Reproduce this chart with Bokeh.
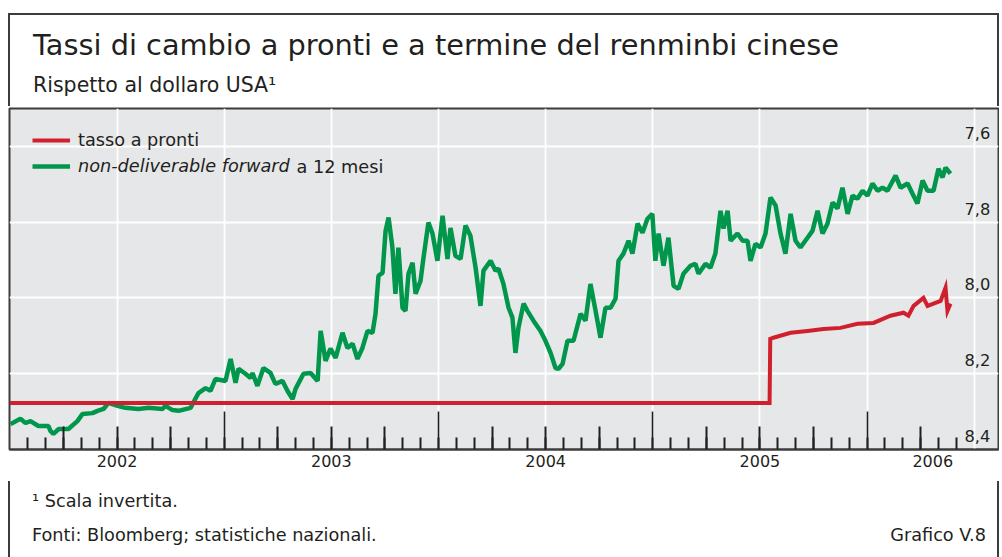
from bokeh.plotting import figure
from bokeh.layouts import column
from bokeh.models import (Range1d, LinearAxis, FixedTicker, CustomJSTickFormatter,
                          Legend, LegendItem, Label, Div)
from bokeh.embed import file_html
from bokeh.resources import INLINE

# ---------------- data (decimal years, CNY per USD) ----------------
spot_x = [2002.000, 2002.500, 2003.000, 2003.500, 2004.000, 2004.500, 2005.000, 2005.545,
          2005.548, 2005.563, 2005.643, 2005.722, 2005.796, 2005.876, 2005.955, 2006.030,
          2006.109, 2006.170, 2006.193, 2006.217, 2006.263, 2006.282, 2006.310, 2006.343,
          2006.366, 2006.375, 2006.389]
spot_y = [8.277, 8.277, 8.277, 8.277, 8.277, 8.277, 8.277, 8.277,
          8.108, 8.105, 8.092, 8.087, 8.082, 8.079, 8.068, 8.066,
          8.047, 8.039, 8.047, 8.021, 8.000, 8.021, 8.015, 8.008,
          7.973, 8.034, 8.015]

ndf_x = [2002.003, 2002.049, 2002.073, 2002.096, 2002.133, 2002.180, 2002.189, 2002.203, 2002.227, 2002.273,
         2002.315, 2002.339, 2002.385, 2002.409, 2002.437, 2002.460, 2002.502, 2002.539, 2002.600, 2002.647,
         2002.712, 2002.726, 2002.759, 2002.787, 2002.843, 2002.880, 2002.913, 2002.936, 2002.959, 2003.006,
         2003.030, 2003.053, 2003.067, 2003.099, 2003.123, 2003.132, 2003.155, 2003.183, 2003.216, 2003.239,
         2003.272, 2003.295, 2003.319, 2003.333, 2003.370, 2003.403, 2003.436, 2003.450, 2003.473, 2003.496,
         2003.520, 2003.552, 2003.575, 2003.599, 2003.622, 2003.645, 2003.669, 2003.692, 2003.706, 2003.720,
         2003.739, 2003.753, 2003.767, 2003.785, 2003.799, 2003.813, 2003.832, 2003.846, 2003.860, 2003.879,
         2003.893, 2003.916, 2003.930, 2003.953, 2003.972, 2003.995, 2004.019, 2004.042, 2004.056, 2004.079,
         2004.103, 2004.126, 2004.149, 2004.173, 2004.196, 2004.210, 2004.243, 2004.266, 2004.280, 2004.303,
         2004.327, 2004.345, 2004.359, 2004.373, 2004.397, 2004.415, 2004.443, 2004.476, 2004.499, 2004.523,
         2004.546, 2004.560, 2004.579, 2004.602, 2004.630, 2004.663, 2004.686, 2004.709, 2004.733, 2004.756,
         2004.779, 2004.803, 2004.826, 2004.840, 2004.863, 2004.887, 2004.905, 2004.929, 2004.952, 2004.975,
         2004.998, 2005.012, 2005.027, 2005.050, 2005.073, 2005.097, 2005.120, 2005.143, 2005.176, 2005.199,
         2005.213, 2005.246, 2005.269, 2005.292, 2005.316, 2005.330, 2005.349, 2005.363, 2005.395, 2005.419,
         2005.442, 2005.456, 2005.479, 2005.503, 2005.526, 2005.549, 2005.573, 2005.596, 2005.619, 2005.643,
         2005.666, 2005.689, 2005.722, 2005.745, 2005.769, 2005.792, 2005.815, 2005.839, 2005.862, 2005.885,
         2005.909, 2005.932, 2005.955, 2005.979, 2006.002, 2006.025, 2006.049, 2006.072, 2006.095, 2006.133,
         2006.156, 2006.189, 2006.212, 2006.235, 2006.259, 2006.282, 2006.310, 2006.333, 2006.352, 2006.366,
         2006.389]
ndf_y = [8.333, 8.319, 8.330, 8.325, 8.338, 8.338, 8.351, 8.359, 8.346, 8.346,
         8.325, 8.306, 8.304, 8.298, 8.293, 8.277, 8.285, 8.290, 8.293, 8.290,
         8.293, 8.285, 8.296, 8.298, 8.290, 8.251, 8.238, 8.245, 8.214, 8.219,
         8.161, 8.224, 8.187, 8.200, 8.211, 8.198, 8.232, 8.185, 8.198, 8.227,
         8.219, 8.245, 8.267, 8.240, 8.200, 8.198, 8.219, 8.087, 8.166, 8.134,
         8.158, 8.092, 8.132, 8.121, 8.161, 8.132, 8.087, 8.092, 8.042, 7.941,
         7.934, 7.823, 7.788, 7.867, 7.989, 7.867, 8.026, 8.034, 7.936, 7.907,
         7.989, 7.955, 7.894, 7.801, 7.830, 7.902, 7.783, 7.897, 7.815, 7.889,
         7.897, 7.809, 7.836, 7.920, 8.021, 7.928, 7.902, 7.928, 7.923, 7.963,
         8.026, 8.052, 8.145, 8.079, 8.015, 8.034, 8.060, 8.087, 8.113, 8.145,
         8.185, 8.187, 8.174, 8.113, 8.113, 8.042, 8.060, 7.963, 8.034, 8.105,
         8.026, 8.026, 8.002, 7.902, 7.883, 7.849, 7.883, 7.804, 7.828, 7.791,
         7.778, 7.902, 7.830, 7.915, 7.841, 7.968, 7.976, 7.936, 7.915, 7.910,
         7.936, 7.910, 7.920, 7.883, 7.770, 7.817, 7.770, 7.849, 7.830, 7.849,
         7.849, 7.902, 7.857, 7.867, 7.830, 7.735, 7.756, 7.830, 7.883, 7.778,
         7.849, 7.867, 7.841, 7.823, 7.770, 7.830, 7.804, 7.748, 7.764, 7.709,
         7.778, 7.730, 7.738, 7.717, 7.730, 7.698, 7.717, 7.709, 7.717, 7.677,
         7.709, 7.698, 7.725, 7.751, 7.690, 7.717, 7.717, 7.659, 7.682, 7.656,
         7.672]

years = [2002, 2003, 2004, 2005, 2006]
year_labels = ["2002", "2003", "2004", "2005", "2006"]
y_ticks = [7.6, 7.8, 8.0, 8.2, 8.4]
y_tick_labels = ["7,6", "7,8", "8,0", "8,2", "8,4"]
series_labels = ["tasso a pronti", "non-deliverable forward", "a 12 mesi"]
title_text = "Tassi di cambio a pronti e a termine del renminbi cinese"
subtitle_text = "Rispetto al dollaro USA\u00b9"
note_text = "\u00b9 Scala invertita."
source_text = "Fonti: Bloomberg; statistiche nazionali."
chart_id_text = "Grafico V.8"

# ---------------- layout constants ----------------
PX_PER_YEAR = 214.3
X0 = 2002 + (9 - 9.4) / PX_PER_YEAR          # frame spans page x 9..998
X1 = X0 + 989 / PX_PER_YEAR
Y_BOT, Y_TOP = 8.4, 7.5                        # frame spans page y 108..449
FONT = "DejaVu Sans"
INK = "#231f20"
RED = "#d0202e"
GREEN = "#00964b"
GRAY = "#e6e7e8"
FRAME = "#3c3c3c"
BORDER = "2px solid " + FRAME


def dx(px):
    return X0 + (px - 9) / 989.0 * (X1 - X0)


def dy(py):
    return Y_TOP + (py - 108) / 341.0 * (Y_BOT - Y_TOP)


p = figure(width=991, height=375, x_range=Range1d(X0, X1), y_range=Range1d(Y_BOT, Y_TOP),
           output_backend="svg", toolbar_location=None,
           min_border_left=1, min_border_right=1, min_border_top=2, min_border_bottom=32,
           background_fill_color=GRAY, border_fill_color="white",
           outline_line_color=FRAME, outline_line_width=2)
p.margin = 0

# grids
half_years = [y + h for y in range(2002, 2007) for h in (0.0, 0.5)][1:]
p.xgrid.ticker = FixedTicker(ticks=half_years)
p.ygrid.ticker = FixedTicker(ticks=y_ticks[:-1])
for g in (p.xgrid, p.ygrid):
    g.grid_line_color = "white"
    g.grid_line_width = 1.8

p.yaxis.visible = False

# main x axis: year labels centred in each year span
last_year_mid = (years[-1] + X1) / 2.0
label_pos = [y + 0.5 for y in years[:-1]] + [last_year_mid]
ax = p.xaxis[0]
ax.ticker = FixedTicker(ticks=label_pos)
ax.formatter = CustomJSTickFormatter(args=dict(labels=year_labels), code="return labels[index]")
ax.major_tick_in = 0
ax.major_tick_out = 0
ax.minor_tick_in = 0
ax.minor_tick_out = 0
ax.axis_line_color = FRAME
ax.axis_line_width = 2
ax.major_label_standoff = 5
ax.major_label_text_font = FONT
ax.major_label_text_font_size = "16px"
ax.major_label_text_color = INK

# month / quarter ticks and year ticks drawn upward from the bottom edge
month_ticks = [y + m / 12.0 for y in range(2002, 2007) for m in range(12)
               if 2002.0 < y + m / 12.0 < 2006.46]
quarter_ticks = [t for t in month_ticks if round((t % 1) * 12) % 3 == 0 and round((t % 1) * 12) != 0]
year_ticks = [float(y) for y in years[1:]]

empty = CustomJSTickFormatter(code="return ''")
axB = LinearAxis(ticker=FixedTicker(ticks=quarter_ticks, minor_ticks=month_ticks),
                 formatter=empty, fixed_location=Y_BOT, axis_line_color=None,
                 major_tick_in=23, major_tick_out=0, minor_tick_in=12, minor_tick_out=0,
                 major_tick_line_color=INK, minor_tick_line_color=INK,
                 major_tick_line_width=2, minor_tick_line_width=2,
                 major_label_text_font_size="0px")
axC = LinearAxis(ticker=FixedTicker(ticks=year_ticks, minor_ticks=[]),
                 formatter=empty, fixed_location=Y_BOT, axis_line_color=None,
                 major_tick_in=38, major_tick_out=0, minor_tick_in=0, minor_tick_out=0,
                 major_tick_line_color=INK, major_tick_line_width=1.6,
                 major_label_text_font_size="0px")
p.add_layout(axB, "below")
p.add_layout(axC, "below")

# right-hand value labels, sitting just above each grid line (inverted scale)
shift = 13.5 / 341.0 * (Y_BOT - Y_TOP)
p.extra_y_ranges = {"lab": Range1d(Y_BOT + shift, Y_TOP + shift)}
axR = LinearAxis(y_range_name="lab", ticker=FixedTicker(ticks=y_ticks, minor_ticks=[]),
                 formatter=CustomJSTickFormatter(args=dict(labels=y_tick_labels), code="return labels[index]"),
                 fixed_location=dx(959), axis_line_color=None,
                 major_tick_line_color=None, minor_tick_line_color=None,
                 major_tick_in=0, major_tick_out=0, minor_tick_in=0, minor_tick_out=0,
                 major_label_standoff=5, major_label_text_font=FONT,
                 major_label_text_font_size="16.3px", major_label_text_color=INK)
p.add_layout(axR, "right")

# series
r_ndf = p.line(ndf_x, ndf_y, line_color=GREEN, line_width=4.5)
r_spot = p.line(spot_x, spot_y, line_color=RED, line_width=4, line_join="miter")

# legend (two boxes so the second label can be italic)
common = dict(padding=0, margin=0, spacing=0, border_line_color=None, background_fill_alpha=0,
              glyph_width=38, glyph_height=26, label_height=26, label_standoff=8,
              label_text_font=FONT, label_text_font_size="17.7px", label_text_color=INK)
leg1 = Legend(items=[LegendItem(label=series_labels[0], renderers=[r_spot])],
              location=(23, 296), **common)
leg2 = Legend(items=[LegendItem(label=series_labels[1], renderers=[r_ndf])],
              location=(23, 270), label_text_font_style="italic", **common)
p.add_layout(leg1)
p.add_layout(leg2)
p.add_layout(Label(x=dx(296), y=dy(166), text=series_labels[2], text_font=FONT,
                   text_font_size="17.7px", text_color=INK, text_baseline="middle"))

# ---------------- header and footer (HTML text) ----------------
def line_html(text, left, top, size, align="left"):
    pos = "left:%dpx;" % left if align == "left" else "right:%dpx;" % left
    return ('<div style="position:absolute;%stop:%dpx;font-size:%spx;line-height:1;'
            'white-space:nowrap;">%s</div>' % (pos, top, size, text))


wrap = ('<div style="position:relative;width:987px;height:%dpx;font-family:\'DejaVu Sans\';'
        'color:%s;">%s</div>')

header = Div(text=wrap % (91, INK, line_html(title_text, 23, 16, 28.8) +
                          line_html(subtitle_text, 23, 60, 20.5)),
             width=991, height=93, margin=0,
             styles={"border-top": BORDER, "border-left": BORDER, "border-right": BORDER,
                     "background": "white"})
footer = Div(text=wrap % (76, INK, line_html(note_text, 22, 12, 17.7) +
                          line_html(source_text, 22, 46, 17.7) +
                          line_html(chart_id_text, 11, 46, 17.7, align="right")),
             width=991, height=76, margin=0,
             styles={"border-left": BORDER, "border-right": BORDER, "background": "white"})

layout = column(header, p, footer, spacing=0,
                styles={"margin-left": "8px", "margin-top": "13px"})

open("out.html", "w").write(file_html(layout, INLINE))
